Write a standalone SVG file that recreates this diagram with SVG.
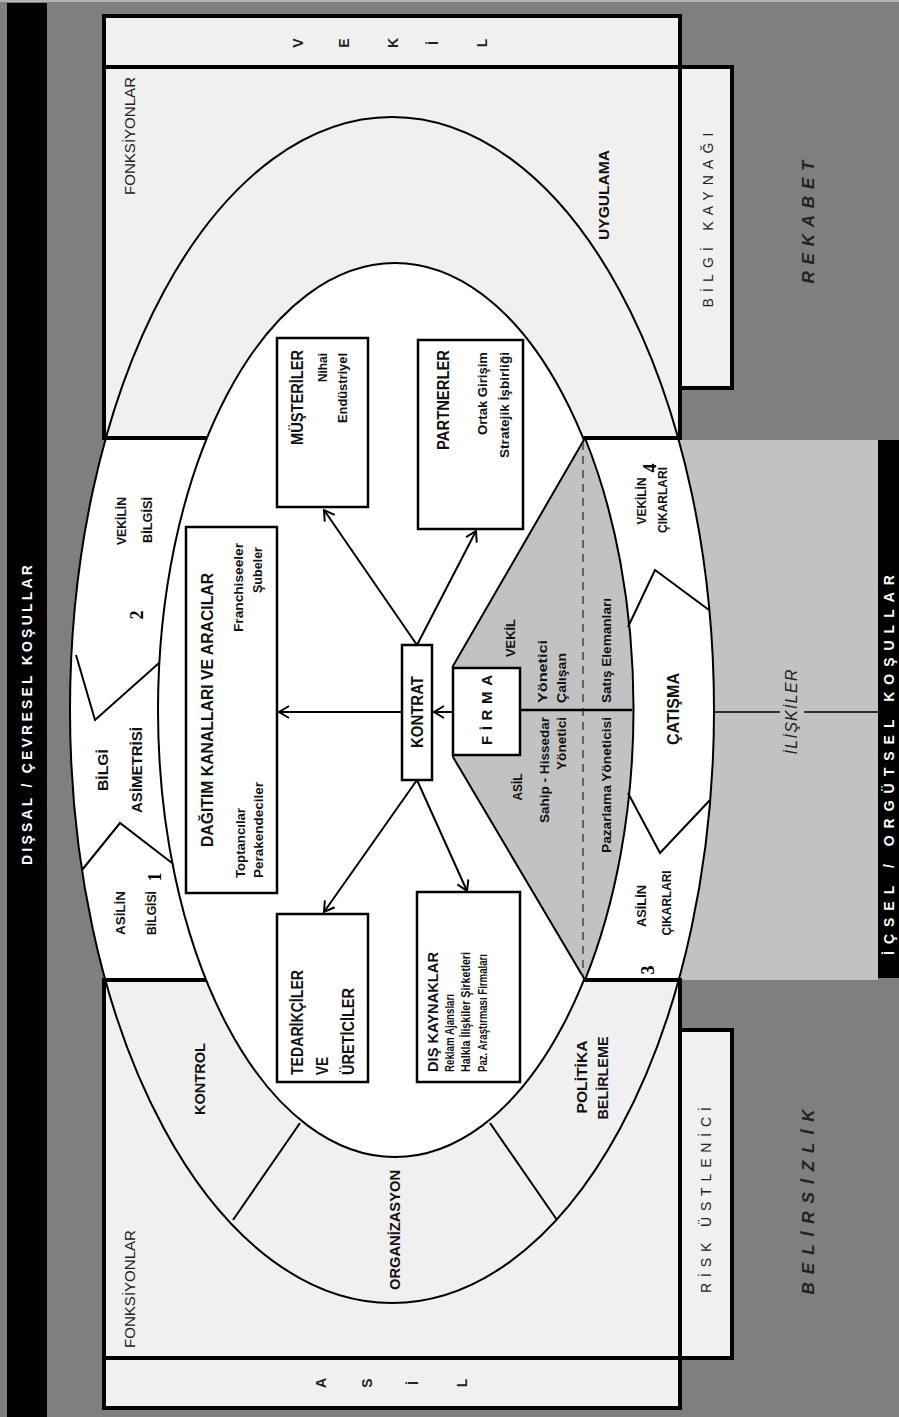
<svg xmlns="http://www.w3.org/2000/svg" width="899" height="1417" viewBox="0 0 899 1417">
<style>
.t{font-family:"Liberation Sans Narrow","Liberation Sans",Arial,sans-serif;fill:#111;font-weight:bold}
.r{font-family:"Liberation Sans",Arial,sans-serif;fill:#222}
.b{font-weight:bold}
.w{fill:#fff}
.sp{font-family:"Liberation Sans",Arial,sans-serif}
.num{font-family:"Liberation Serif","Times New Roman",serif;font-weight:bold;fill:#000}
.panel{fill:#f0f0f0;stroke:#000;stroke-width:4}
.box{fill:#fff;stroke:#000;stroke-width:2.5}
.thin{fill:none;stroke:#000;stroke-width:2}
.arr{fill:none;stroke:#000;stroke-width:2;marker-end:url(#ah)}
</style>
<defs>
<marker id="ah" markerWidth="14" markerHeight="14" refX="12" refY="7" orient="auto" markerUnits="userSpaceOnUse"><path d="M2,1 L12,7 L2,13" fill="none" stroke="#000" stroke-width="2"/></marker>
<clipPath id="outerClip"><ellipse cx="392" cy="710" rx="322" ry="593"/></clipPath>
</defs>
<g id="background">
<rect x="0" y="0" width="899" height="1417" fill="#7f7f7f"/>
<rect x="0" y="0" width="899" height="2" fill="#b4b4b4"/>
<rect x="680" y="440" width="198" height="540" fill="#c2c2c2"/>
<rect x="7" y="3" width="40" height="1414" fill="#000"/>
<rect x="878" y="440" width="21" height="538" fill="#000"/>
</g>
<g id="panels">
<rect id="vekil-box" x="104" y="16" width="576" height="51" class="panel"/>
<rect id="asil-box" x="104" y="1358" width="576" height="50" class="panel"/>
<rect id="bilgi-kaynagi-box" x="680" y="67" width="52" height="321" class="panel"/>
<rect id="risk-box" x="680" y="1030" width="52" height="328" class="panel"/>
<rect id="fonk-top" x="104" y="67" width="576" height="371" class="panel"/>
<rect id="fonk-bottom" x="104" y="980" width="576" height="378" class="panel"/>
</g>
<g id="ellipses">
<rect x="0" y="440" width="899" height="538" fill="#fff" clip-path="url(#outerClip)"/>
<ellipse cx="392" cy="710" rx="322" ry="593" class="thin"/>
<ellipse id="inner-ellipse" cx="395" cy="710" rx="237" ry="447" fill="#fff" stroke="#000" stroke-width="2"/>
<path id="firma-wedge" d="M585,438 L453,666 L453,757 L585,980 A237,447 0 0 0 585,438 Z" fill="#c2c2c2" stroke="#000" stroke-width="2"/>
<line x1="583" y1="442" x2="583" y2="976" stroke="#444" stroke-width="1.5" stroke-dasharray="8,6"/>
<line x1="520" y1="710" x2="632" y2="710" stroke="#000" stroke-width="2.5"/>
</g>
<g id="dividers" class="thin">
<line x1="300" y1="1123" x2="233" y2="1220"/>
<line x1="490" y1="1123" x2="557" y2="1220"/>
<polyline points="628,627 655,570 709,610"/>
<polyline points="628,793 660,853 710,800"/>
<polyline points="159,663 95,720 76,655"/>
<polyline points="172,863 120,823 82,870"/>
<line x1="714" y1="712" x2="780" y2="712" stroke-width="1.5"/>
<line x1="804" y1="712" x2="878" y2="712" stroke-width="1.5"/>
</g>
<g id="connectors">
<line x1="402" y1="712" x2="279" y2="712" class="arr"/>
<line x1="417" y1="645" x2="324" y2="510" class="arr"/>
<line x1="417" y1="645" x2="476" y2="531" class="arr"/>
<line x1="417" y1="780" x2="324" y2="912" class="arr"/>
<line x1="417" y1="780" x2="467" y2="891" class="arr"/>
<line x1="453" y1="712" x2="434" y2="712" class="arr"/>
</g>
<g id="node-kontrat"><rect x="402" y="645" width="30" height="135" class="box"/>
<text class="t" font-size="16" text-anchor="middle" textLength="72" lengthAdjust="spacingAndGlyphs" transform="translate(423,712) rotate(-90)">KONTRAT</text></g>
<g id="node-firma"><rect x="453" y="668" width="67" height="87" class="box"/>
<text class="t" font-size="15" text-anchor="middle" textLength="70" lengthAdjust="spacing" transform="translate(492,710) rotate(-90)">FİRMA</text></g>
<g id="node-dagitim"><rect x="186" y="527" width="91" height="366" class="box"/>
<text class="t" font-size="17" text-anchor="middle" textLength="274" lengthAdjust="spacingAndGlyphs" transform="translate(213,710) rotate(-90)">DAĞITIM KANALLARI  VE  ARACILAR</text>
<text class="t" font-size="13" textLength="70" lengthAdjust="spacingAndGlyphs" transform="translate(245,878) rotate(-90)">Toptancılar</text>
<text class="t" font-size="13" textLength="96" lengthAdjust="spacingAndGlyphs" transform="translate(263,878) rotate(-90)">Perakendeciler</text>
<text class="t" font-size="13" text-anchor="end" textLength="89" lengthAdjust="spacingAndGlyphs" transform="translate(243,543) rotate(-90)">Franchiseeler</text>
<text class="t" font-size="13" text-anchor="end" textLength="46" lengthAdjust="spacingAndGlyphs" transform="translate(262,547) rotate(-90)">Şubeler</text></g>
<g id="node-musteriler"><rect x="277" y="338" width="91" height="169" class="box"/>
<text class="t" font-size="17" text-anchor="end" textLength="95" lengthAdjust="spacingAndGlyphs" transform="translate(303,350) rotate(-90)">MÜŞTERİLER</text>
<text class="t" font-size="12" text-anchor="end" textLength="29" lengthAdjust="spacingAndGlyphs" transform="translate(327,353) rotate(-90)">Nihai</text>
<text class="t" font-size="12" text-anchor="end" textLength="70" lengthAdjust="spacingAndGlyphs" transform="translate(347,353) rotate(-90)">Endüstriyel</text></g>
<g id="node-partnerler"><rect x="418" y="340" width="105" height="189" class="box"/>
<text class="t" font-size="17" text-anchor="end" textLength="100" lengthAdjust="spacingAndGlyphs" transform="translate(449,350) rotate(-90)">PARTNERLER</text>
<text class="t" font-size="12.5" text-anchor="end" textLength="83" lengthAdjust="spacingAndGlyphs" transform="translate(487,352) rotate(-90)">Ortak Girişim</text>
<text class="t" font-size="12.5" text-anchor="end" textLength="106" lengthAdjust="spacingAndGlyphs" transform="translate(509,352) rotate(-90)">Stratejik İşbirliği</text></g>
<g id="node-tedarikciler"><rect x="277" y="914" width="91" height="168" class="box"/>
<text class="t" font-size="17" textLength="105" lengthAdjust="spacingAndGlyphs" transform="translate(303,1075) rotate(-90)">TEDARİKÇİLER</text>
<text class="t" font-size="17" textLength="18" lengthAdjust="spacingAndGlyphs" transform="translate(328,1075) rotate(-90)">VE</text>
<text class="t" font-size="17" textLength="87" lengthAdjust="spacingAndGlyphs" transform="translate(354,1075) rotate(-90)">ÜRETİCİLER</text></g>
<g id="node-dis-kaynaklar"><rect x="417" y="892" width="103" height="190" class="box"/>
<text class="t" font-size="15" textLength="120" lengthAdjust="spacingAndGlyphs" transform="translate(438,1072) rotate(-90)">DIŞ KAYNAKLAR</text>
<text class="t" font-size="12" textLength="78" lengthAdjust="spacingAndGlyphs" transform="translate(454,1072) rotate(-90)">Reklam Ajansları</text>
<text class="t" font-size="12" textLength="120" lengthAdjust="spacingAndGlyphs" transform="translate(470,1072) rotate(-90)">Halkla İlişkiler Şirketleri</text>
<text class="t" font-size="12" textLength="118" lengthAdjust="spacingAndGlyphs" transform="translate(487,1072) rotate(-90)">Paz. Araştırması Firmaları</text></g>
<g id="firma-roles">
<text class="t" font-size="13" text-anchor="middle" textLength="38" lengthAdjust="spacingAndGlyphs" transform="translate(515,638) rotate(-90)">VEKİL</text>
<text class="t" font-size="12.5" textLength="63" lengthAdjust="spacingAndGlyphs" transform="translate(547,703) rotate(-90)">Yönetici</text>
<text class="t" font-size="12.5" textLength="50" lengthAdjust="spacingAndGlyphs" transform="translate(566,703) rotate(-90)">Çalışan</text>
<text class="t" font-size="12.5" textLength="105" lengthAdjust="spacingAndGlyphs" transform="translate(611,703) rotate(-90)">Satış Elemanları</text>
<text class="t" font-size="13" text-anchor="middle" textLength="27" lengthAdjust="spacingAndGlyphs" transform="translate(522,787) rotate(-90)">ASİL</text>
<text class="t" font-size="12.5" text-anchor="end" textLength="106" lengthAdjust="spacingAndGlyphs" transform="translate(549,717) rotate(-90)">Sahip - Hissedar</text>
<text class="t" font-size="12.5" text-anchor="end" textLength="53" lengthAdjust="spacingAndGlyphs" transform="translate(566,717) rotate(-90)">Yönetici</text>
<text class="t" font-size="12.5" text-anchor="end" textLength="136" lengthAdjust="spacingAndGlyphs" transform="translate(611,717) rotate(-90)">Pazarlama Yöneticisi</text>
</g>
<g id="band-labels">
<text class="t" font-size="12" text-anchor="middle" textLength="48" lengthAdjust="spacingAndGlyphs" transform="translate(126,521) rotate(-90)">VEKİLİN</text>
<text class="t" font-size="12" text-anchor="middle" textLength="46" lengthAdjust="spacingAndGlyphs" transform="translate(152,520) rotate(-90)">BİLGİSİ</text>
<text class="t" font-size="12" text-anchor="middle" textLength="44" lengthAdjust="spacingAndGlyphs" transform="translate(125,913) rotate(-90)">ASİLİN</text>
<text class="t" font-size="12" text-anchor="middle" textLength="44" lengthAdjust="spacingAndGlyphs" transform="translate(156,913) rotate(-90)">BİLGİSİ</text>
<text class="t" font-size="15" text-anchor="middle" textLength="42" lengthAdjust="spacingAndGlyphs" transform="translate(108,770) rotate(-90)">BİLGİ</text>
<text class="t" font-size="15" text-anchor="middle" textLength="86" lengthAdjust="spacingAndGlyphs" transform="translate(142,770) rotate(-90)">ASİMETRİSİ</text>
<text class="t" font-size="12" text-anchor="middle" textLength="47" lengthAdjust="spacingAndGlyphs" transform="translate(646,501) rotate(-90)">VEKİLİN</text>
<text class="t" font-size="12" text-anchor="middle" textLength="66" lengthAdjust="spacingAndGlyphs" transform="translate(667,500) rotate(-90)">ÇIKARLARI</text>
<text class="t" font-size="12" text-anchor="middle" textLength="42" lengthAdjust="spacingAndGlyphs" transform="translate(646,906) rotate(-90)">ASİLİN</text>
<text class="t" font-size="12" text-anchor="middle" textLength="65" lengthAdjust="spacingAndGlyphs" transform="translate(671,903) rotate(-90)">ÇIKARLARI</text>
<text class="t" font-size="17" text-anchor="middle" textLength="72" lengthAdjust="spacingAndGlyphs" transform="translate(679,709) rotate(-90)">ÇATIŞMA</text>
<text class="num" font-size="18" text-anchor="middle" transform="translate(161,877) rotate(-90)">1</text>
<text class="num" font-size="18" text-anchor="middle" transform="translate(143,615) rotate(-90)">2</text>
<text class="num" font-size="18" text-anchor="middle" transform="translate(654,970) rotate(-90)">3</text>
<text class="num" font-size="18" text-anchor="middle" transform="translate(656,468) rotate(-90)">4</text>
</g>
<g id="function-labels">
<text class="t" font-size="15" text-anchor="middle" textLength="72" lengthAdjust="spacingAndGlyphs" transform="translate(205,1079) rotate(-90)">KONTROL</text>
<text class="t" font-size="15" text-anchor="middle" textLength="120" lengthAdjust="spacingAndGlyphs" transform="translate(400,1230) rotate(-90)">ORGANİZASYON</text>
<text class="t" font-size="14" text-anchor="middle" textLength="73" lengthAdjust="spacingAndGlyphs" transform="translate(587,1077) rotate(-90)">POLİTİKA</text>
<text class="t" font-size="14" text-anchor="middle" textLength="83" lengthAdjust="spacingAndGlyphs" transform="translate(608,1078) rotate(-90)">BELİRLEME</text>
<text class="t" font-size="15" text-anchor="middle" textLength="90" lengthAdjust="spacingAndGlyphs" transform="translate(609,195) rotate(-90)">UYGULAMA</text>
<text class="r" font-size="15" textLength="118" lengthAdjust="spacingAndGlyphs" transform="translate(135,1348) rotate(-90)">FONKSİYONLAR</text>
<text class="r" font-size="15" text-anchor="end" textLength="118" lengthAdjust="spacingAndGlyphs" transform="translate(135,77) rotate(-90)">FONKSİYONLAR</text>
</g>
<g id="side-labels">
<text class="r" font-size="14" text-anchor="middle" textLength="175" lengthAdjust="spacing" transform="translate(713,220) rotate(-90)">BİLGİ KAYNAĞI</text>
<text class="r" font-size="14" text-anchor="middle" textLength="186" lengthAdjust="spacing" transform="translate(711,1200) rotate(-90)">RİSK ÜSTLENİCİ</text>
<text class="r b" font-size="17" font-style="italic" text-anchor="middle" textLength="123" lengthAdjust="spacing" transform="translate(814,222) rotate(-90)">REKABET</text>
<text class="r b" font-size="17" font-style="italic" text-anchor="middle" textLength="185" lengthAdjust="spacing" transform="translate(814,1202) rotate(-90)">BELİRSİZLİK</text>
<text class="r" font-size="16" font-style="italic" text-anchor="middle" textLength="85" lengthAdjust="spacing" transform="translate(797,712) rotate(-90)">İLİŞKİLER</text>
<text class="sp b w" font-size="14" text-anchor="middle" textLength="300" lengthAdjust="spacing" transform="translate(32,715) rotate(-90)">DIŞSAL / ÇEVRESEL KOŞULLAR</text>
<text class="sp b w" font-size="14" text-anchor="middle" textLength="380" lengthAdjust="spacing" transform="translate(894,765) rotate(-90)">İÇSEL / ORGÜTSEL KOŞULLAR</text>
</g>
<g id="vekil-letters" class="r b" font-size="14" text-anchor="middle">
<text transform="translate(303,43) rotate(-90)">V</text>
<text transform="translate(349,43) rotate(-90)">E</text>
<text transform="translate(398,43) rotate(-90)">K</text>
<text transform="translate(438,43) rotate(-90)">İ</text>
<text transform="translate(487,43) rotate(-90)">L</text>
</g>
<g id="asil-letters" class="r b" font-size="14" text-anchor="middle">
<text transform="translate(326,1383) rotate(-90)">A</text>
<text transform="translate(372,1383) rotate(-90)">S</text>
<text transform="translate(418,1383) rotate(-90)">İ</text>
<text transform="translate(467,1383) rotate(-90)">L</text>
</g>
</svg>
